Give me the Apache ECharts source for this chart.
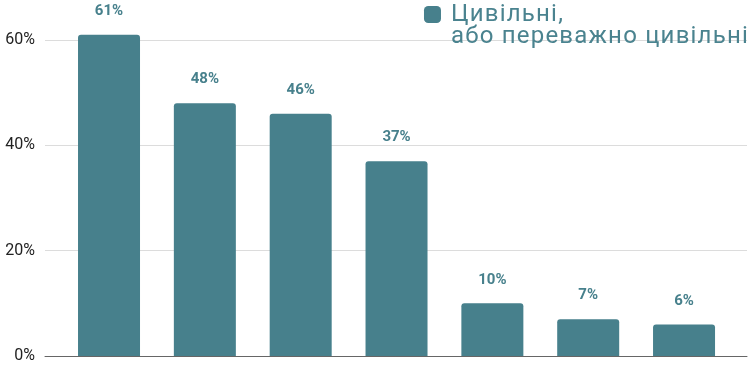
<!DOCTYPE html>
<html>
<head>
<meta charset="utf-8">
<script src="https://cdn.jsdelivr.net/npm/echarts@6/dist/echarts.min.js"></script>
<style>html,body{margin:0;padding:0;background:#fff}#c{width:750px;height:365px}</style>
</head>
<body>
<div id="c"></div>
<script>
// Slightly wider tracking for the 24px legend text, as in the reference rendering.
(function () {
  const proto = CanvasRenderingContext2D.prototype;
  const desc = Object.getOwnPropertyDescriptor(proto, 'font');
  if (desc && 'letterSpacing' in proto) {
    Object.defineProperty(proto, 'font', {
      configurable: true,
      get() { return desc.get.call(this); },
      set(v) { desc.set.call(this, v); this.letterSpacing = /\b24px\b/.test(String(v)) ? '1.2px' : '0px'; }
    });
  }
})();

const categories = ['1', '2', '3', '4', '5', '6', '7'];
const values = [61, 48, 46, 37, 10, 7, 6];
const yTicks = [0, 20, 40, 60];
const seriesName = 'Цивільні,';
const seriesNameLine2 = 'або переважно цивільні';

const teal = '#47808c';
const chart = echarts.init(document.getElementById('c'), null, {renderer: 'canvas'});
const L = 22;
chart.setOption({
  animation: false,
  grid: {left: 45, right: 3, top: 40, bottom: 9, containLabel: false},
  legend: {
    data: [seriesName],
    right: 1, top: -20, padding: 0,
    itemWidth: 17, itemHeight: 17, itemGap: 0,
    icon: 'roundRect',
    formatter: () => '\n{s|}' + seriesName + '\n{s|}' + seriesNameLine2,
    textStyle: {
      color: '#4a838f', fontSize: 24, fontFamily: 'Roboto', lineHeight: L,
      rich: {s: {width: 5, lineHeight: L}}
    }
  },
  xAxis: {
    type: 'value', min: -0.668, max: 6.657,
    axisLabel: {show: false}, axisTick: {show: false}, splitLine: {show: false},
    axisLine: {show: true, lineStyle: {color: '#666', width: 1}}
  },
  yAxis: {
    type: 'value', min: yTicks[0], max: yTicks[yTicks.length - 1], interval: 20,
    axisLine: {show: false}, axisTick: {show: false},
    axisLabel: {formatter: '{value}%', color: '#222', fontSize: 16, fontFamily: 'Roboto', margin: 10},
    splitLine: {lineStyle: {color: '#dcdcdc', width: 1}}
  },
  series: [{
    name: seriesName,
    type: 'bar',
    clip: false,
    barWidth: 62,
    data: values.map((v, i) => [i, v]),
    itemStyle: {color: teal, borderRadius: [3, 3, 0, 0]},
    label: {
      show: true, position: 'top', distance: 16,
      formatter: p => p.value[1] + '%',
      color: teal, fontWeight: 'bold', fontSize: 15, fontFamily: 'Roboto'
    }
  }]
});
</script>
</body>
</html>
